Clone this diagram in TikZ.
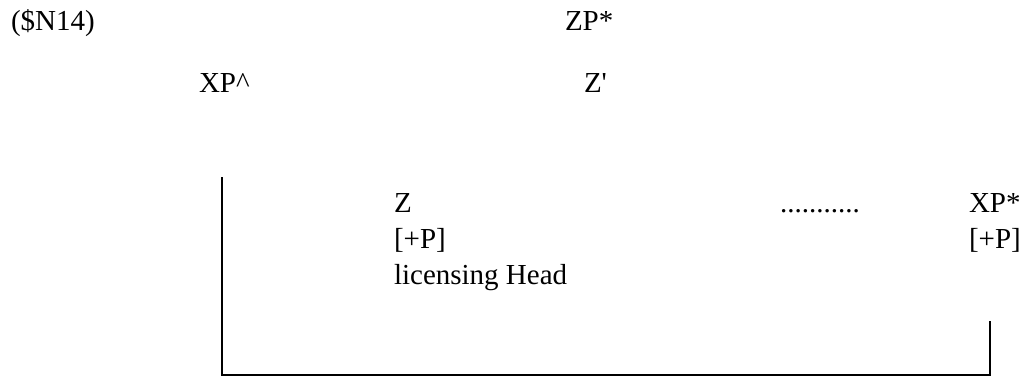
\documentclass[tikz,border=0pt]{standalone}
\usepackage{fontspec}
\setmainfont{Liberation Serif}
\tikzset{
  word/.style = {anchor=base west, inner sep=0pt, outer sep=0pt,
                 font=\fontsize{29}{34}\selectfont},
  link/.style = {line width=1.6pt, line cap=rect}
}

\begin{document}
\begin{tikzpicture}[x=1pt, y=-1pt]
	\useasboundingbox (0,0) rectangle (1023,385);
	\def \rowtop{31}
	\def \rowmid{93}
	\def \rowA{212}
	\def \rowB{248}
	\def \rowC{284}
	
	% Top line
	\node[word] (num)  at (11,\rowtop)  {(\$N14)};
	\node[word] (zpst) at (565,\rowtop) {ZP*};
	
	% Second line
	\node[word] (xpup) at (199,\rowmid) {XP\textasciicircum};
	\node[word] (zbar) at (584,\rowmid) {Z\textquotesingle};
	
	% Head
	\node[word] (z)    at (394,\rowA) {Z};
	\node[word] (zp)   at (394,\rowB) {[+P]};
	\node[word] (lic)  at (394,\rowC) {licensing Head};
	
	% Dots
	\node[word] (dots) at (780,\rowA) {...........};
	
	% Moved phrase
	\node[word] (xpst) at (969,\rowA) {XP*};
	\node[word] (xpp)  at (969,\rowB) {[+P]};
	
	% Link
	\coordinate (lt) at (222,178);
	\coordinate (lb) at (222,375);
	\coordinate (rb) at (990,375);
	\coordinate (rt) at (990,322);
	\draw[link] (lt) -- (lb) -- (rb) -- (rt);
	
\end{tikzpicture}
\end{document}
